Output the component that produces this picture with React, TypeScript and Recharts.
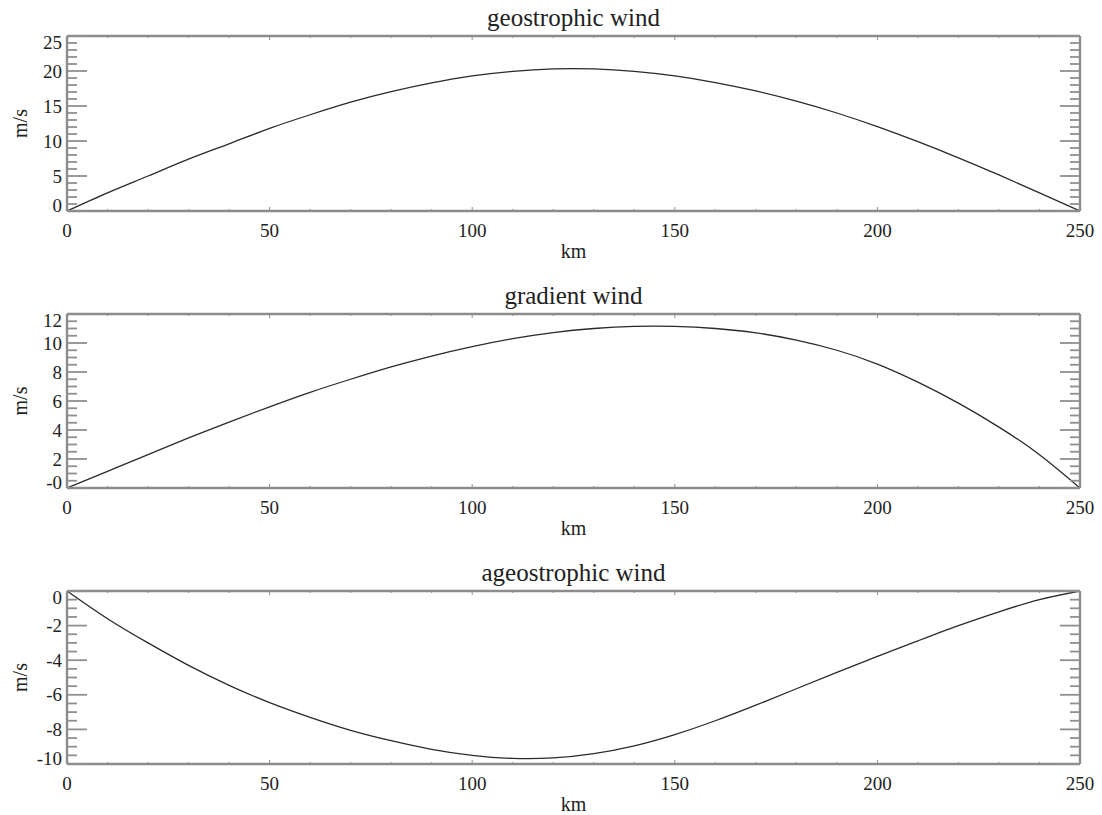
import React from "react";
import { LineChart, Line, XAxis, YAxis } from "recharts";

// ---- data ----
const km = [0, 10, 20, 30, 40, 50, 60, 70, 80, 90, 100, 110, 120, 130, 140, 150, 160, 170, 180, 190, 200, 210, 220, 230, 240, 250];
const geostrophic = [0, 2.6, 5.0, 7.4, 9.6, 11.8, 13.75, 15.55, 17.05, 18.3, 19.3, 19.95, 20.3, 20.3, 19.95, 19.3, 18.35, 17.15, 15.7, 14.0, 12.05, 9.9, 7.6, 5.15, 2.6, 0];
const gradient = [0, 1.15, 2.3, 3.45, 4.55, 5.6, 6.6, 7.5, 8.35, 9.1, 9.75, 10.3, 10.72, 11.0, 11.15, 11.15, 11.0, 10.7, 10.2, 9.5, 8.55, 7.3, 5.85, 4.2, 2.3, 0];
const ageostrophic = [0, -1.6, -3.0, -4.3, -5.45, -6.45, -7.3, -8.05, -8.65, -9.15, -9.5, -9.68, -9.65, -9.4, -8.95, -8.3, -7.5, -6.6, -5.65, -4.7, -3.78, -2.88, -2.0, -1.2, -0.5, 0];

const titles = ["geostrophic wind", "gradient wind", "ageostrophic wind"];
const xLabel = "km";
const yLabel = "m/s";

const xTicks = [0, 10, 20, 30, 40, 50, 60, 70, 80, 90, 100, 110, 120, 130, 140, 150, 160, 170, 180, 190, 200, 210, 220, 230, 240, 250];
const xMajor = [0, 50, 100, 150, 200, 250];
const xMajorLabels = ["0", "50", "100", "150", "200", "250"];

const yTicks1 = [0, 1, 2, 3, 4, 5, 6, 7, 8, 9, 10, 11, 12, 13, 14, 15, 16, 17, 18, 19, 20, 21, 22, 23, 24, 25];
const yMajor1 = [0, 5, 10, 15, 20, 25];
const yMajorLabels1 = ["0", "5", "10", "15", "20", "25"];

const yTicks2 = [0, 0.5, 1, 1.5, 2, 2.5, 3, 3.5, 4, 4.5, 5, 5.5, 6, 6.5, 7, 7.5, 8, 8.5, 9, 9.5, 10, 10.5, 11, 11.5, 12];
const yMajor2 = [0, 2, 4, 6, 8, 10, 12];
const yMajorLabels2 = ["-0", "2", "4", "6", "8", "10", "12"];

const yTicks3 = [-10, -9.5, -9, -8.5, -8, -7.5, -7, -6.5, -6, -5.5, -5, -4.5, -4, -3.5, -3, -2.5, -2, -1.5, -1, -0.5, 0];
const yMajor3 = [-10, -8, -6, -4, -2, 0];
const yMajorLabels3 = ["-10", "-8", "-6", "-4", "-2", "0"];

// ---- layout ----
const W = 1102;
const PLOT_LEFT = 67;
const PLOT_RIGHT = 1080;
const FONT = "'Liberation Serif', 'Times New Roman', serif";
const AXIS = "#8c8c8c";
const TICK = "#8f8f8f";
const INK = "#2a2a2a";

type Panel = {
  title: string;
  values: number[];
  domain: [number, number];
  yTicks: number[];
  yMajor: number[];
  yLabels: string[];
  svgTop: number;
  svgHeight: number;
  plotTop: number;
  plotBottom: number;
};

const panels: Panel[] = [
  { title: titles[0], values: geostrophic, domain: [0, 25], yTicks: yTicks1, yMajor: yMajor1, yLabels: yMajorLabels1, svgTop: 0, svgHeight: 270, plotTop: 36, plotBottom: 211 },
  { title: titles[1], values: gradient, domain: [0, 12], yTicks: yTicks2, yMajor: yMajor2, yLabels: yMajorLabels2, svgTop: 270, svgHeight: 280, plotTop: 314, plotBottom: 488 },
  { title: titles[2], values: ageostrophic, domain: [-10, 0], yTicks: yTicks3, yMajor: yMajor3, yLabels: yMajorLabels3, svgTop: 550, svgHeight: 265, plotTop: 591, plotBottom: 764 },
];

const makeXTick = (side: "top" | "bottom") => (props: any) => {
  const { x, y, payload } = props;
  const v = payload.value;
  const mi = xMajor.indexOf(v);
  const len = mi >= 0 ? 4 : 2;
  const dir = side === "bottom" ? -1 : 1;
  return (
    <g>
      <line x1={x} y1={y} x2={x} y2={y + dir * len} stroke={TICK} strokeWidth={1} />
      {side === "bottom" && mi >= 0 ? (
        <text x={x} y={y + 26} textAnchor="middle" fontFamily={FONT} fontSize={19} fill="#222">
          {xMajorLabels[mi]}
        </text>
      ) : null}
    </g>
  );
};

const makeYTick = (side: "left" | "right", p: Panel) => (props: any) => {
  const { x, y, payload } = props;
  const v = payload.value;
  const mi = p.yMajor.indexOf(v);
  const len = mi >= 0 ? 20 : 10;
  const dir = side === "left" ? 1 : -1;
  let dy = 6.5;
  if (v === p.domain[1]) dy += 6;
  if (v === p.domain[0]) dy -= 6;
  return (
    <g>
      <line x1={x} y1={y} x2={x + dir * len} y2={y} stroke={TICK} strokeWidth={1.8} />
      {side === "left" && mi >= 0 ? (
        <text x={x - 5} y={y + dy} textAnchor="end" fontFamily={FONT} fontSize={19} fill="#222">
          {p.yLabels[mi]}
        </text>
      ) : null}
    </g>
  );
};

function PanelChart({ p }: { p: Panel }) {
  const data = km.map((k, i) => ({ km: k, v: p.values[i] }));
  return (
    <div style={{ position: "absolute", left: 0, top: p.svgTop, width: W, height: p.svgHeight }}>
      <LineChart
        width={W}
        height={p.svgHeight}
        data={data}
        margin={{ top: p.plotTop - p.svgTop - 1, right: W - PLOT_RIGHT - 1, left: 0, bottom: p.svgTop + p.svgHeight - p.plotBottom - 1 }}
        style={{ overflow: "visible" }}
      >
        <XAxis
          xAxisId="b"
          dataKey="km"
          type="number"
          domain={[0, 250]}
          ticks={xTicks}
          interval={0}
          orientation="bottom"
          height={1}
          tickSize={0}
          tickMargin={0}
          tickLine={false}
          axisLine={{ stroke: AXIS, strokeWidth: 2.4 }}
          tick={makeXTick("bottom")}
          allowDataOverflow
        />
        <XAxis
          xAxisId="t"
          dataKey="km"
          type="number"
          domain={[0, 250]}
          ticks={xTicks}
          interval={0}
          orientation="top"
          height={1}
          tickSize={0}
          tickMargin={0}
          tickLine={false}
          axisLine={{ stroke: AXIS, strokeWidth: 2.4 }}
          tick={makeXTick("top")}
          allowDataOverflow
        />
        <YAxis
          yAxisId="l"
          type="number"
          domain={p.domain}
          ticks={p.yTicks}
          interval={0}
          orientation="left"
          width={PLOT_LEFT}
          tickSize={0}
          tickMargin={0}
          tickLine={false}
          axisLine={{ stroke: AXIS, strokeWidth: 2.4 }}
          tick={makeYTick("left", p)}
          allowDataOverflow
        />
        <YAxis
          yAxisId="r"
          type="number"
          domain={p.domain}
          ticks={p.yTicks}
          interval={0}
          orientation="right"
          width={1}
          tickSize={0}
          tickMargin={0}
          tickLine={false}
          axisLine={{ stroke: AXIS, strokeWidth: 2.4 }}
          tick={makeYTick("right", p)}
          allowDataOverflow
        />
        <Line
          xAxisId="b"
          yAxisId="l"
          dataKey="v"
          type="natural"
          stroke={INK}
          strokeWidth={1.3}
          dot={false}
          isAnimationActive={false}
        />
      </LineChart>
    </div>
  );
}

export default function App() {
  const cx = (PLOT_LEFT + PLOT_RIGHT) / 2;
  return (
    <div style={{ position: "absolute", left: 0, top: 0, width: W, height: 815, background: "#fff", overflow: "hidden" }}>
      {panels.map((p, i) => (
        <PanelChart key={i} p={p} />
      ))}
      <svg width={W} height={815} style={{ position: "absolute", left: 0, top: 0, pointerEvents: "none" }}>
        {panels.map((p, i) => (
          <g key={i} fontFamily={FONT} fill="#222">
            <text x={cx} y={p.plotTop - 10} textAnchor="middle" fontSize={25}>
              {p.title}
            </text>
            <text x={cx} y={p.plotBottom + 47} textAnchor="middle" fontSize={20}>
              {xLabel}
            </text>
            <text
              transform={`translate(27, ${(p.plotTop + p.plotBottom) / 2}) rotate(-90)`}
              textAnchor="middle"
              fontSize={20}
            >
              {yLabel}
            </text>
          </g>
        ))}
      </svg>
    </div>
  );
}
